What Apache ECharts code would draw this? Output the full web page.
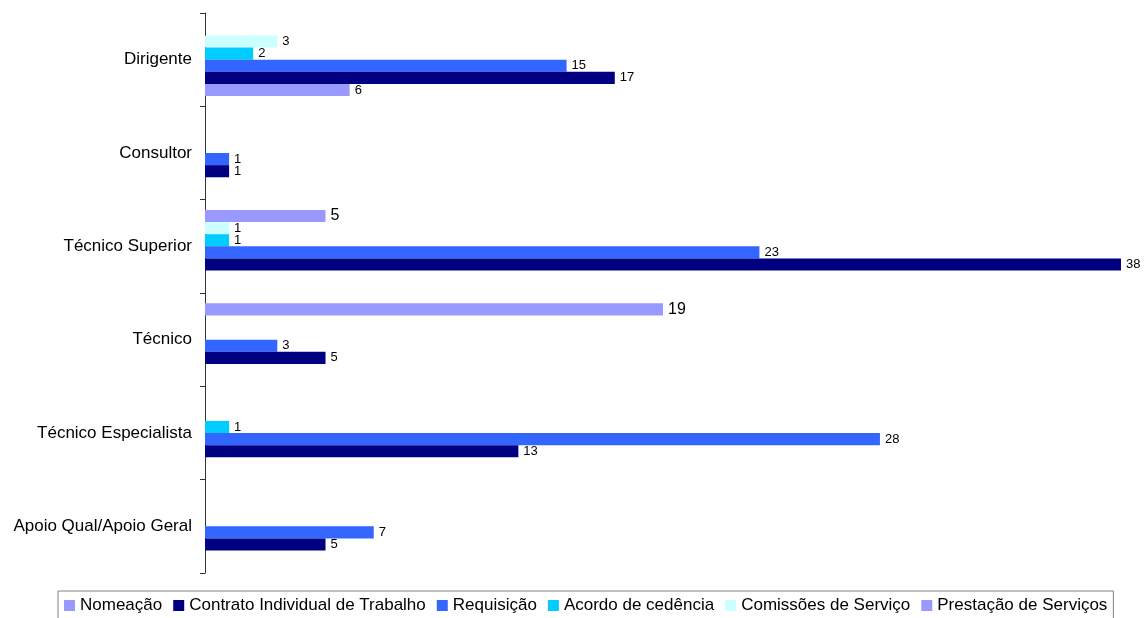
<!DOCTYPE html>
<html>
<head>
<meta charset="utf-8">
<script src="https://cdn.jsdelivr.net/npm/echarts@6/dist/echarts.min.js"></script>
<style>
  html, body { margin: 0; padding: 0; background: #fff; }
  #chart { width: 1146px; height: 618px; }
</style>
</head>
<body>
<div id="chart"></div>
<script>
// Job categories, top to bottom
const categories = ['Dirigente', 'Consultor', 'Técnico Superior', 'Técnico', 'Técnico Especialista', 'Apoio Qual/Apoio Geral'];

// Headcount per contract type (null = none)
const nomeacao   = [6, null, null, null, null, null];
const contrato   = [17, 1, 38, 5, 13, 5];
const requisicao = [15, 1, 23, 3, 28, 7];
const acordo     = [2, null, 1, null, 1, null];
const comissoes  = [3, null, 1, null, null, null];
const prestacao  = [null, null, 5, 19, null, null];

const seriesDefs = [
  { name: 'Nomeação', data: nomeacao, color: '#9999FF', labelSize: 13 },
  { name: 'Contrato Individual de Trabalho', data: contrato, color: '#000080', labelSize: 13 },
  { name: 'Requisição', data: requisicao, color: '#3366FF', labelSize: 13 },
  { name: 'Acordo de cedência', data: acordo, color: '#00CCFF', labelSize: 13 },
  { name: 'Comissões de Serviço', data: comissoes, color: '#CCFFFF', labelSize: 13 },
  { name: 'Prestação de Serviços', data: prestacao, color: '#9999FF', labelSize: 16 }
];

const FONT = '"Liberation Sans", Arial, sans-serif';

// Bars are laid out first-series-on-top, so stack them in reverse
const series = seriesDefs.slice().reverse().map(s => ({
  name: s.name,
  type: 'bar',
  data: s.data,
  barGap: '0%',
  barCategoryGap: '22%',
  itemStyle: { color: s.color },
  label: {
    show: true,
    position: 'right',
    distance: 5,
    color: '#000',
    fontFamily: FONT,
    fontSize: s.labelSize
  },
  emphasis: { disabled: true },
  animation: false
}));

const chart = echarts.init(document.getElementById('chart'));
chart.setOption({
  backgroundColor: '#fff',
  animation: false,
  grid: { left: 205, right: 25, top: 13, bottom: 45, containLabel: false },
  xAxis: {
    type: 'value',
    min: 0,
    max: 38,
    show: false
  },
  yAxis: {
    type: 'category',
    data: categories,
    inverse: true,
    axisLine: { show: true, lineStyle: { color: '#333', width: 1 } },
    axisTick: { show: true, length: 5, lineStyle: { color: '#333' } },
    axisLabel: { color: '#000', fontFamily: FONT, fontSize: 17, margin: 13 },
    splitLine: { show: false }
  },
  legend: {
    data: seriesDefs.map(s => s.name),
    left: 58,
    bottom: -6,
    orient: 'horizontal',
    itemWidth: 11,
    itemHeight: 11,
    itemGap: 11,
    icon: 'rect',
    padding: [6, 6, 10, 6],
    borderColor: '#808080',
    borderWidth: 1,
    textStyle: { color: '#000', fontFamily: FONT, fontSize: 17 },
    selectedMode: false
  },
  series: series
});
</script>
</body>
</html>
